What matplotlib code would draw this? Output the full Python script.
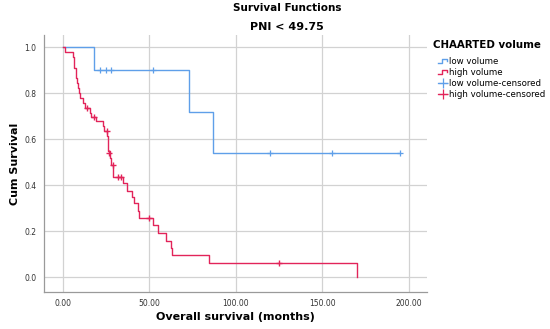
import matplotlib
matplotlib.use('Agg')
import matplotlib.pyplot as plt
from matplotlib.lines import Line2D
from matplotlib.legend_handler import HandlerBase

# Kaplan-Meier steps (months, cumulative survival)
low_times = [0, 18.0, 73.0, 86.7, 195.2]
low_surv = [1.0, 0.90, 0.72, 0.54, 0.54]
low_cens_t = [21.5, 25.0, 27.7, 52.0, 119.6, 155.6, 195.2]
low_cens_s = [0.90, 0.90, 0.90, 0.90, 0.54, 0.54, 0.54]

high_times = [0, 1.3, 5.8, 6.3, 6.8, 7.5, 7.9, 8.3, 8.7, 9.2, 9.8, 12.0, 13.0,
              15.5, 16.3, 19.5, 23.4, 24.0, 25.8, 26.0, 26.2, 26.4, 27.3, 28.2,
              29.0, 29.3, 35.0, 37.3, 40.0, 41.3, 43.3, 43.9, 52.3, 55.0, 60.0,
              62.5, 62.9, 84.6, 170.2]
high_surv = [1.0, 0.978, 0.956, 0.933, 0.911, 0.889, 0.867, 0.844, 0.822, 0.800,
             0.778, 0.756, 0.737, 0.716, 0.697, 0.678, 0.657, 0.636, 0.614, 0.593,
             0.571, 0.550, 0.517, 0.488, 0.463, 0.437, 0.409, 0.377, 0.348, 0.322,
             0.288, 0.259, 0.227, 0.194, 0.159, 0.128, 0.097, 0.063, 0.0]
high_cens_t = [13.9, 17.9, 25.4, 26.7, 28.9, 32.1, 33.5, 50.0, 125.0]
high_cens_s = [0.737, 0.697, 0.636, 0.539, 0.488, 0.437, 0.437, 0.259, 0.063]

x_ticks = [0, 50, 100, 150, 200]
y_ticks = [0.0, 0.2, 0.4, 0.6, 0.8, 1.0]

blue = '#5f9fe9'
red = '#e2245a'
grid_col = '#d2d2d2'


class StepHandler(HandlerBase):
    def create_artists(self, legend, orig_handle, xdescent, ydescent, width, height, fontsize, trans):
        x0 = -xdescent
        y0 = -ydescent
        xs = [x0, x0 + width * 0.45, x0 + width * 0.45, x0 + width * 0.95, x0 + width * 0.95]
        ys = [y0 + height * 0.15, y0 + height * 0.15, y0 + height * 0.75, y0 + height * 0.75, y0 + height * 0.45]
        ln = Line2D(xs, ys, color=orig_handle.get_color(), lw=1.0, transform=trans)
        return [ln]


fig = plt.figure(figsize=(5.5, 3.29), dpi=100)
ax = fig.add_axes([0.0791, 0.1125, 0.6973, 0.781])

ax.step(low_times, low_surv, where='post', color=blue, lw=1.0, zorder=3)
ax.step(high_times, high_surv, where='post', color=red, lw=1.0, zorder=3)
ax.plot(low_cens_t, low_cens_s, ls='none', marker='+', color=blue, ms=5, mew=0.9, zorder=4)
ax.plot(high_cens_t, high_cens_s, ls='none', marker='+', color=red, ms=5, mew=1.0, zorder=4)

ax.set_xlim(-11.1, 210.6)
ax.set_ylim(-0.064, 1.0535)
ax.set_xticks(x_ticks)
ax.set_xticklabels(['%.2f' % v for v in x_ticks])
ax.set_yticks(y_ticks)
ax.set_yticklabels(['%.1f' % v for v in y_ticks])
ax.tick_params(length=0, labelsize=5.5, colors='#333333', pad=5)
ax.grid(True, color=grid_col, lw=0.9)
ax.set_axisbelow(True)
for side in ['top', 'right']:
    ax.spines[side].set_visible(False)
for side in ['left', 'bottom']:
    ax.spines[side].set_color('#9a9a9a')
    ax.spines[side].set_linewidth(0.9)

ax.set_xlabel('Overall survival (months)', fontsize=8, fontweight='bold', labelpad=3)
ax.set_ylabel('Cum Survival', fontsize=8, fontweight='bold', labelpad=3)

fig.text(0.522, 0.975, 'Survival Functions', ha='center', va='center', fontsize=7.5, fontweight='bold')
fig.text(0.522, 0.918, 'PNI < 49.75', ha='center', va='center', fontsize=8, fontweight='bold')
fig.text(433 / 550, 1 - 45 / 329, 'CHAARTED volume', ha='left', va='center', fontsize=7.4, fontweight='bold')

h_low = Line2D([], [], color=blue)
h_high = Line2D([], [], color=red)
h_low_c = Line2D([], [], color=blue, marker='+', ms=7, mew=0.9, lw=0.9)
h_high_c = Line2D([], [], color=red, marker='+', ms=7, mew=0.9, lw=0.9)
leg = fig.legend([h_low, h_high, h_low_c, h_high_c],
                 ['low volume', 'high volume', 'low volume-censored', 'high volume-censored'],
                 loc='upper left', bbox_to_anchor=(438 / 550, 1 - 56.5 / 329),
                 frameon=False, fontsize=6.2, handlelength=1.05,
                 handletextpad=0.2, labelspacing=0.25, borderaxespad=0, borderpad=0,
                 handler_map={h_low: StepHandler(), h_high: StepHandler()})

fig.savefig('out.png', dpi=100)
